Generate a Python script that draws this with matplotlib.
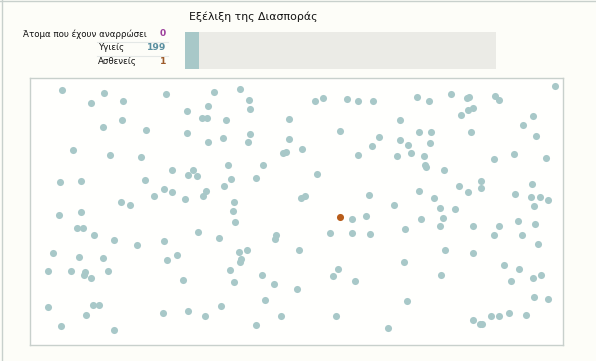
import matplotlib
matplotlib.use("Agg")
import matplotlib.pyplot as plt
from matplotlib.lines import Line2D

# ---- data ----
title = "Εξέλιξη της Διασποράς"
status_labels = ["Άτομα που έχουν αναρρώσει", "Υγιείς", "Ασθενείς"]
status_counts = [0, 199, 1]
total_people = 200

# positions of healthy people (x, y)
healthy_x = [
    62.3, 103.7, 91, 123.3, 166, 187.3, 208, 202.3, 207, 103, 122, 146, 187.3, 207.7,
    73.3, 109.7, 140.7, 171.7, 193.3, 188.3, 197, 59.7, 80.7, 144.7, 163.7, 172.3,
    154, 184.7, 206, 203.3, 121.3, 130, 59, 81.3,
    214.3, 239.7, 248.7, 250, 226.3, 222.7, 250.3, 247.7, 289, 289.3, 282.7, 285.7,
    302.3, 315, 323, 347, 357.7, 373, 340.3, 379.3, 372.3, 358, 228.3, 262.7, 231.3,
    256, 224.3, 317.3, 300.7, 305.3, 369.3, 234, 233,
    417.3, 428.7, 451, 466.7, 469.3, 495, 498.7, 555.3, 460.7, 468, 473, 400.3, 419.3,
    431, 470.7, 533.3, 522.7, 535.7, 400.3, 408.3, 430, 410.7, 397.3, 424, 424.7, 426,
    444.3, 494.3, 514, 545.7, 481, 480.7, 458.7, 468.3, 419.3, 433.7, 532.3, 514.7,
    531, 540.3, 548, 533.7, 393.7, 440.3, 455.3,
    77, 82.7, 94.3, 114, 137.3, 163.7, 198, 53, 79, 103, 166.7, 176.7, 48.3, 70.7,
    84.7, 84, 90.7, 108, 182.7, 48.3, 93, 99, 85.7, 162.7, 187.7, 205.3, 61.3, 113.7,
    235.3, 218.7, 276.3, 275, 298.7, 238.7, 247, 241, 240.3, 229.7, 233.7, 261.7, 274,
    296.7, 264.7, 220.7, 280.7, 256.3, 351.7, 366, 329.7, 352, 369.7, 338, 333, 355,
    336.3, 388,
    420.7, 404.7, 443.3, 440.3, 472.7, 499.3, 494.3, 518.3, 535.3, 521.7, 538.3, 445,
    473.3, 403.7, 504, 519, 511, 532.7, 541, 441.3, 407, 533.7, 547.7, 473, 479.7,
    482.3, 491.3, 499.3, 508.7, 526.3,
]
healthy_y = [
    89.7, 93, 103.3, 101, 94.3, 110.7, 105.7, 118.3, 118.3, 127, 120.3, 130.3, 132.7, 141.7,
    150.3, 155.3, 156.7, 169.7, 170.3, 175, 175.7, 181.7, 180.7, 180.3, 189.3, 192,
    195.7, 198.7, 191, 196.3, 201.7, 204.7, 214.5, 212.2,
    92, 89, 100.3, 109, 120, 137.7, 134, 142, 119, 138.7, 153, 152.3, 149, 101, 97.7,
    99.3, 100.7, 101, 131.3, 137.3, 145.7, 154.7, 164.7, 165, 179, 178.3, 186.3, 173.7,
    198.3, 196.3, 195, 201.7, 211.2,
    97.3, 101.3, 94.3, 97.7, 96.7, 96, 99.7, 86.3, 115, 110, 108, 120, 132.3, 131.7,
    131.7, 116.3, 125.3, 135.7, 140.3, 145, 142.7, 152.7, 155.7, 155.7, 165, 167.3,
    170.3, 159.3, 154, 157.7, 181.3, 187.7, 185.7, 191.7, 190.7, 198, 183.7, 194, 197,
    197, 200, 205.7, 205, 208, 209.3,
    228.3, 228.3, 235, 240.3, 245.3, 241.3, 231.7, 253.3, 257.3, 258.3, 260.3, 254.7,
    270.7, 270.7, 271.7, 275, 277.7, 270.7, 280.3, 307, 305.3, 305.3, 315.3, 313,
    310.7, 316, 326, 329.7,
    222.3, 238, 235, 238.7, 249.7, 252, 250, 259.3, 262.3, 269.7, 281.7, 275.3, 284,
    288.7, 299.7, 305.7, 316.3, 325.3, 219, 216, 233, 233.3, 234, 269, 276.3, 281.3,
    316.3, 328.3,
    218.7, 229, 218.3, 225.7, 226, 226, 235, 221, 223.7, 235.3, 244.3, 250, 252.7, 262,
    264.7, 269.3, 281.3, 277.7, 275, 275.3, 301, 297.3, 299.3, 320.3, 324.3, 324.3,
    316, 316.3, 313, 315,
]
sick_x = [340.3]
sick_y = [217.3]

# ---- styles ----
BG = "#fdfdf8"
HEALTHY = "#a8c8c8"
SICK = "#b85c1a"
RECOVERED = "#9b3d9b"
VALUE_COLORS = ["#9b3d9b", "#5a8fa0", "#9c5a2a"]
W, H = 596, 361

fig = plt.figure(figsize=(W / 100, H / 100), dpi=100, facecolor=BG)

def px_axes(x0, y0, x1, y1):
    return fig.add_axes([x0 / W, (H - y1) / H, (x1 - x0) / W, (y1 - y0) / H])

# figure border (left, top)
fig.add_artist(Line2D([1.5 / W, 1.5 / W], [0, 1], color="#c8d0cc", lw=1))
fig.add_artist(Line2D([0, 1], [1 - 0.5 / H, 1 - 0.5 / H], color="#c8d0cc", lw=1))

# title
fig.text(253 / W, 1 - 17 / H, title, ha="center", va="center",
         fontsize=7.8, color="#111111", family="DejaVu Sans")

# status labels and counts
label_rows_y = [34, 48, 62]
label_right = [147, 125, 137]
for lab, val, col, yy, xr in zip(status_labels, status_counts, VALUE_COLORS,
                                 label_rows_y, label_right):
    fig.text(xr / W, 1 - yy / H, lab, ha="right", va="center", fontsize=6.2,
             color="#111111", family="DejaVu Sans")
    fig.text(166 / W, 1 - yy / H, str(val), ha="right", va="center", fontsize=6.6,
             color=col, fontweight="bold", family="DejaVu Sans")
for yy in [41.5, 55.5]:
    fig.add_artist(Line2D([97 / W, 168 / W], [1 - yy / H, 1 - yy / H],
                          color="#e4e8e6", lw=0.8))

# evolution bar (first time step of the stacked history)
bax = px_axes(185, 32, 496, 69)
bax.set_facecolor("#ebebe6")
steps = [0]
recovered_hist = [status_counts[0]]
healthy_hist = [status_counts[1]]
sick_hist = [status_counts[2]]
bax.bar(steps, sick_hist, width=1, align="edge", color=SICK, linewidth=0)
bax.bar(steps, healthy_hist, width=1, align="edge", bottom=sick_hist, color=HEALTHY,
        linewidth=0)
bax.bar(steps, recovered_hist, width=1, align="edge",
        bottom=[a + b for a, b in zip(sick_hist, healthy_hist)], color=RECOVERED,
        linewidth=0)
bax.set_xlim(0, 311 / 14.3)
bax.set_ylim(0, total_people)
bax.set_xticks([])
bax.set_yticks([])
for sp in bax.spines.values():
    sp.set_visible(False)

# scatter of people
ax = px_axes(29.5, 78, 563, 345)
ax.set_facecolor("#fffffd")
ax.scatter(healthy_x, healthy_y, s=26, color=HEALTHY, linewidths=0, zorder=2)
ax.scatter(sick_x, sick_y, s=26, color=SICK, linewidths=0, zorder=3)
ax.set_xlim(29.5, 563)
ax.set_ylim(345, 78)
ax.set_xticks([])
ax.set_yticks([])
for sp in ax.spines.values():
    sp.set_color("#c8d0cc")
    sp.set_linewidth(1)

fig.savefig("out.png", dpi=100, facecolor=BG)
